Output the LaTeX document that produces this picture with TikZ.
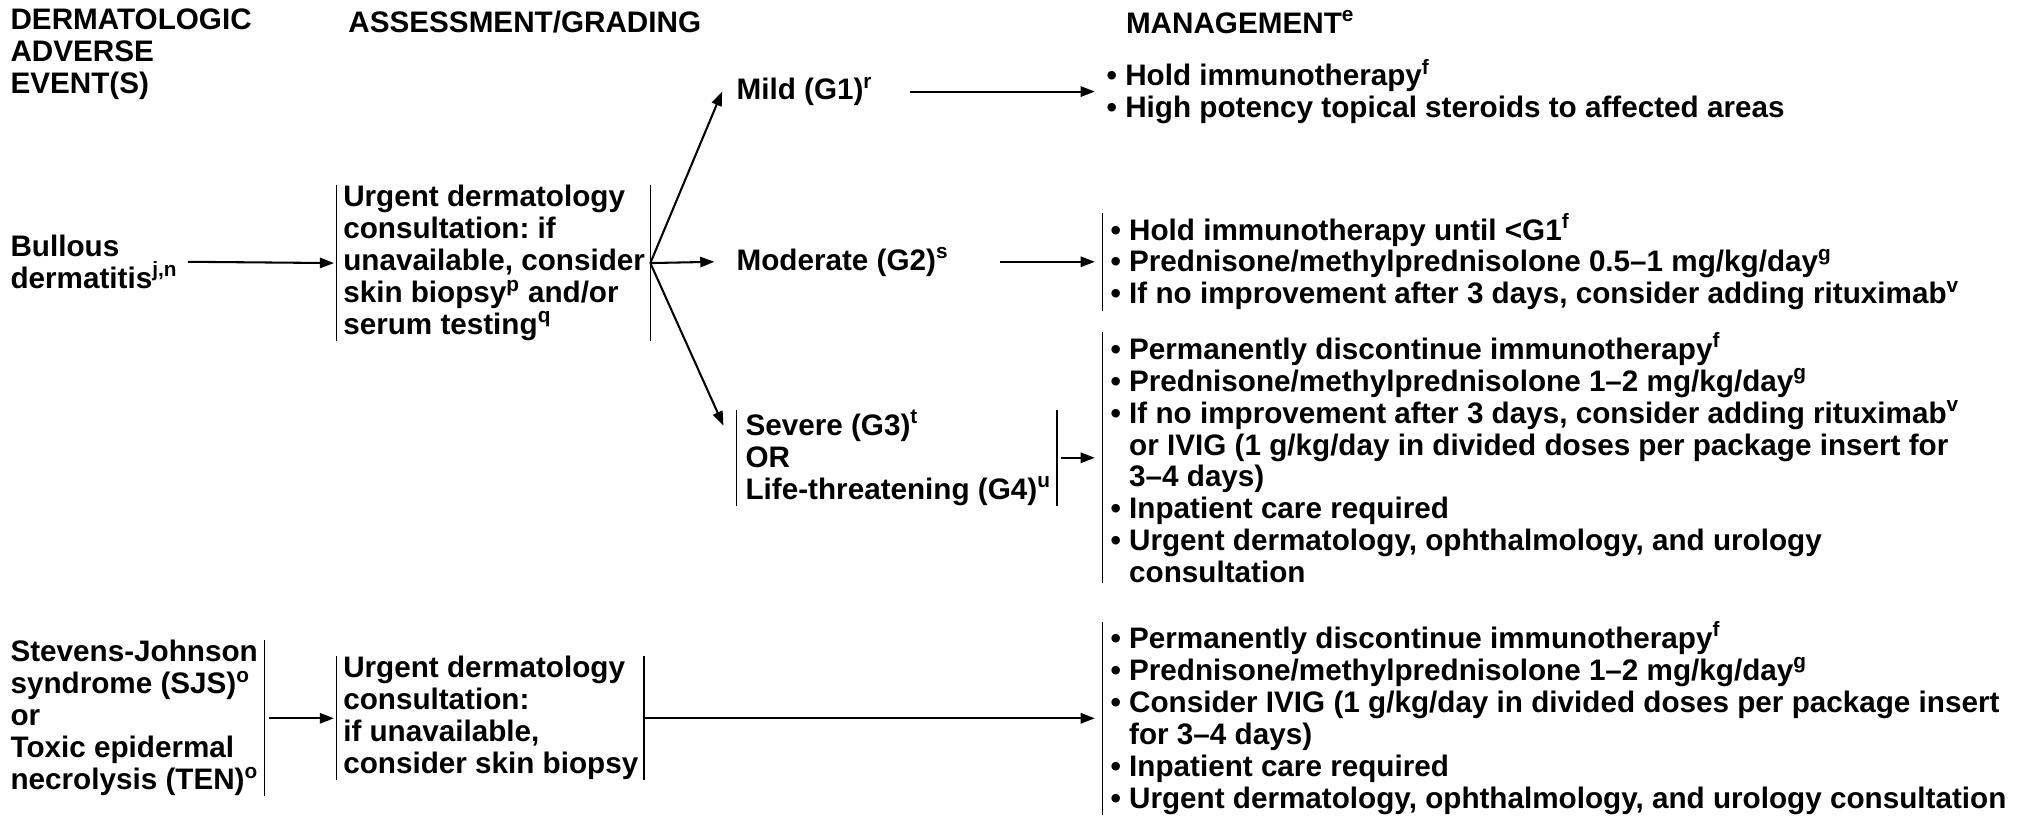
\documentclass[tikz,border=0pt]{standalone}
\usepackage{fontspec}
\setmainfont{Liberation Sans}
\usetikzlibrary{arrows.meta,positioning}
\frenchspacing
\newcommand{\bl}{\textbullet\ }
\newcommand{\cn}{\hphantom{\textbullet\ }}
\newcommand{\sps}[1]{\textsuperscript{#1}}
\begin{document}
\begin{tikzpicture}[x=1pt,y=-1pt,>={Triangle[length=11pt,width=8pt]},
	font=\fontsize{23}{24.8}\selectfont\bfseries,
	txt/.style={anchor=west,align=left,inner sep=0pt},
	arr/.style={->,line width=1.6pt},
	bar/.style={line width=1.3pt}]
	\useasboundingbox (0,0) rectangle (1568,633);
	% column heads
	\node[txt] (hev) at (8,42) {DERMATOLOGIC\\ADVERSE\\EVENT(S)};
	\node[txt] (hass) at (270,17) {ASSESSMENT/GRADING};
	\node[txt] (hman) at (873,17) {MANAGEMENT\sps{e}};
	% bullous dermatitis
	\node[txt] (bul) at (8,203) {Bullous\\dermatitis\sps{j,n}};
	\node[txt] (ass1) at (266,204) {Urgent dermatology\\consultation: if\\unavailable, consider\\skin biopsy\sps{p} and/or\\serum testing\sps{q}};
	\node[txt] (mild) at (571,71) {Mild (G1)\sps{r}};
	\node[txt] (mod) at (571,203) {Moderate (G2)\sps{s}};
	\node[txt] (sev) at (578,355) {Severe (G3)\sps{t}\\OR\\Life-threatening (G4)\sps{u}};
	\node[txt] (m1) at (858,71) {\bl Hold immunotherapy\sps{f}\\\bl High potency topical steroids to affected areas};
	\node[txt] (m2) at (861,203) {\bl Hold immunotherapy until <G1\sps{f}\\\bl Prednisone/methylprednisolone 0.5–1 mg/kg/day\sps{g}\\\bl If no improvement after 3 days, consider adding rituximab\sps{v}};
	\node[txt] (m3) at (861,355) {\bl Permanently discontinue immunotherapy\sps{f}\\\bl Prednisone/methylprednisolone 1–2 mg/kg/day\sps{g}\\\bl If no improvement after 3 days, consider adding rituximab\sps{v}\\\cn or IVIG (1 g/kg/day in divided doses per package insert for\\\cn 3–4 days)\\\bl Inpatient care required\\\bl Urgent dermatology, ophthalmology, and urology\\\cn consultation};
	% SJS / TEN
	\node[txt] (sjs) at (8,557) {Stevens-Johnson\\syndrome (SJS)\sps{o}\\or\\Toxic epidermal\\necrolysis (TEN)\sps{o}};
	\node[txt] (ass2) at (266,557) {Urgent dermatology\\consultation:\\if unavailable,\\consider skin biopsy};
	\node[txt] (m4) at (861,557) {\bl Permanently discontinue immunotherapy\sps{f}\\\bl Prednisone/methylprednisolone 1–2 mg/kg/day\sps{g}\\\bl Consider IVIG (1 g/kg/day in divided doses per package insert\\\cn for 3–4 days)\\\bl Inpatient care required\\\bl Urgent dermatology, ophthalmology, and urology consultation};
	% bars
	\coordinate (a1r) at ([xshift=4pt]ass1.east);
	\coordinate (a2r) at ([xshift=4pt]ass2.east);
	\coordinate (svr) at ([xshift=5pt]sev.east);
	\coordinate (sjr) at ([xshift=5pt]sjs.east);
	\draw[bar] ([xshift=-5pt]ass1.north west) -- ([xshift=-5pt]ass1.south west);
	\draw[bar] (a1r |- ass1.north) -- (a1r |- ass1.south);
	\draw[bar] ([xshift=-5pt]ass2.north west) -- ([xshift=-5pt]ass2.south west);
	\draw[bar] (a2r |- ass2.north) -- (a2r |- ass2.south);
	\draw[bar] ([xshift=-7pt]sev.north west) -- ([xshift=-7pt]sev.south west);
	\draw[bar] (svr |- sev.north) -- (svr |- sev.south);
	\draw[bar] (sjr |- sjs.north) -- (sjr |- sjs.south);
	\foreach \m in {m2,m3,m4}
		\draw[bar] ([xshift=-6pt]\m.north west) -- ([xshift=-6pt]\m.south west);
	% arrows
	\draw[arr] ([xshift=8pt]bul.east) -- ([xshift=-7pt]ass1.west);
	\draw[arr] (a1r) -- ([xshift=-11pt]mild.west);
	\draw[arr] (a1r) -- ([xshift=-17pt]mod.west);
	\draw[arr] (a1r) -- ([xshift=-17pt,yshift=25pt]sev.west);
	\draw[arr] ([xshift=29pt]mild.east) -- ([xshift=-9pt]m1.west);
	\draw[arr] ([xshift=40pt]mod.east) -- ([xshift=-12pt]m2.west);
	\draw[arr] ([xshift=3pt]svr) -- ([xshift=-12pt]m3.west);
	\draw[arr] ([xshift=3pt]sjr) -- ([xshift=-7pt]ass2.west);
	\draw[arr] (a2r) -- ([xshift=-12pt]m4.west);
\end{tikzpicture}
\end{document}
